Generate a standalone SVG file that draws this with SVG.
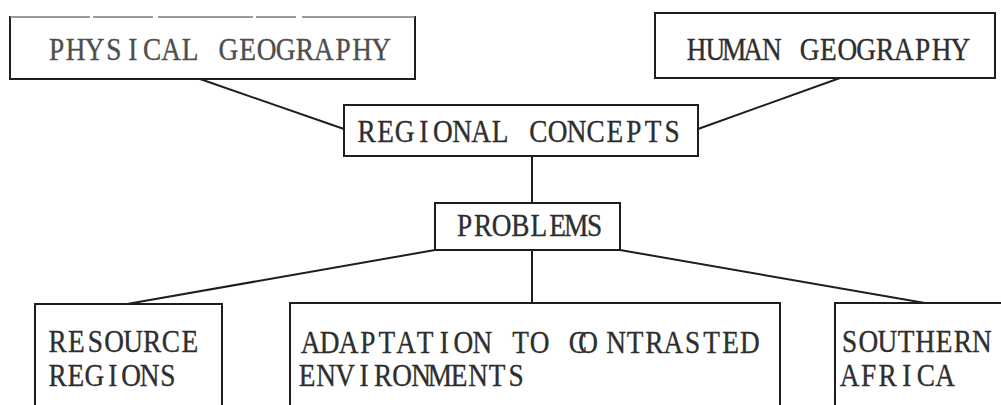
<svg xmlns="http://www.w3.org/2000/svg" width="1001" height="405" viewBox="0 0 1001 405">
  <style>
    .box { fill: none; stroke: #1e1e1e; stroke-width: 2; stroke-linecap: square; }
    .faint { fill: none; stroke: #7a7a7a; stroke-width: 1.6; stroke-dasharray: 80 3 60 5 95 3 40 6 120 2; }
    .link { fill: none; stroke: #1e1e1e; stroke-width: 2; }
    .tw { font-family: "Liberation Serif", "Times New Roman", serif; font-size: 31px; fill: #2e2e2e; stroke: #2e2e2e; stroke-width: 0.35; text-anchor: middle; }
    .light { fill: #4e4e4e; stroke: #4e4e4e; }
  </style>

  <rect width="1001" height="405" fill="#ffffff"/>

  <!-- connectors -->
  <g id="connectors">
    <line class="link" x1="200" y1="79" x2="344" y2="129"/>
    <line class="link" x1="840" y1="78" x2="698" y2="129"/>
    <line class="link" x1="532" y1="156" x2="532" y2="203"/>
    <line class="link" x1="435" y1="250" x2="127" y2="304"/>
    <line class="link" x1="532" y1="250" x2="532" y2="303"/>
    <line class="link" x1="620" y1="250" x2="925" y2="303"/>
  </g>

  <!-- typed labels: one glyph per fixed-pitch cell, slightly condensed -->
  <g id="physical-geography">
    <path class="box" d="M10 17 V79 H415 V17"/>
    <line class="faint" x1="10" y1="17" x2="415" y2="17"/>
    <text class="tw light" transform="translate(56.5 60) scale(0.88 1)" x="0 21.7 43.41 65.11 86.82 108.52 130.23 151.93 173.64 195.34 217.05 238.75 260.45 282.16 303.86 325.57 347.27 368.98" y="0">PHYSICAL GEOGRAPHY</text>
  </g>

  <g id="human-geography">
    <rect class="box" x="655" y="13" width="340" height="65"/>
    <text class="tw" transform="translate(696.5 60) scale(0.88 1)" x="0 21.42 42.84 64.26 85.68 107.1 128.52 149.94 171.36 192.78 214.2 235.63 257.05 278.47 299.89" y="0">HUMAN GEOGRAPHY</text>
  </g>

  <g id="regional-concepts">
    <rect class="box" x="344" y="105" width="354" height="51"/>
    <text class="tw" transform="translate(366.5 142) scale(0.88 1)" x="0 21.7 43.41 65.11 86.82 108.52 130.23 151.93 173.64 195.34 217.05 238.75 260.45 282.16 303.86 325.57 347.27" y="0">REGIONAL CONCEPTS</text>
  </g>

  <g id="problems">
    <rect class="box" x="435" y="203" width="185" height="47"/>
    <text class="tw" transform="translate(464.5 236) scale(0.88 1)" x="0 21.14 42.27 63.41 84.55 105.68 126.82 147.95" y="0">PROBLEMS</text>
  </g>

  <g id="resource-regions">
    <path class="box" d="M35 406 V304 H222 V406"/>
    <text class="tw" transform="translate(57.5 352) scale(0.88 1)" x="0 21.48 42.95 64.43 85.91 107.39 128.86 150.34" y="0">RESOURCE</text>
    <text class="tw" transform="translate(57.5 386) scale(0.88 1)" x="0 20.91 41.82 62.73 83.64 104.55 125.45" y="0">REGIONS</text>
  </g>

  <g id="adaptation">
    <path class="box" d="M290 406 V303 H780 V406"/>
    <text class="tw" transform="translate(310.5 353) scale(0.88 1)" x="0 21.7 43.41 65.11 86.82 108.52 130.23 151.93 173.64 195.34 217.05 238.75 260.45 282.16 303.86 315.34 347.27 368.98 390.68 412.39 434.09 455.8 477.5 499.2" y="0">ADAPTATION TO CONTRASTED</text>
    <text class="tw" transform="translate(307 386) scale(0.88 1)" x="0 21.59 43.18 64.77 86.36 107.95 129.55 151.14 172.73 194.32 215.91 237.5" y="0">ENVIRONMENTS</text>
  </g>

  <g id="southern-africa">
    <path class="box" d="M835 406 V303 H1002"/>
    <text class="tw" transform="translate(849.5 352) scale(0.88 1)" x="0 21.48 42.95 64.43 85.91 107.39 128.86 150.34" y="0">SOUTHERN</text>
    <text class="tw" transform="translate(849.5 386) scale(0.88 1)" x="0 21.7 43.41 65.11 86.82 108.52" y="0">AFRICA</text>
  </g>
</svg>
